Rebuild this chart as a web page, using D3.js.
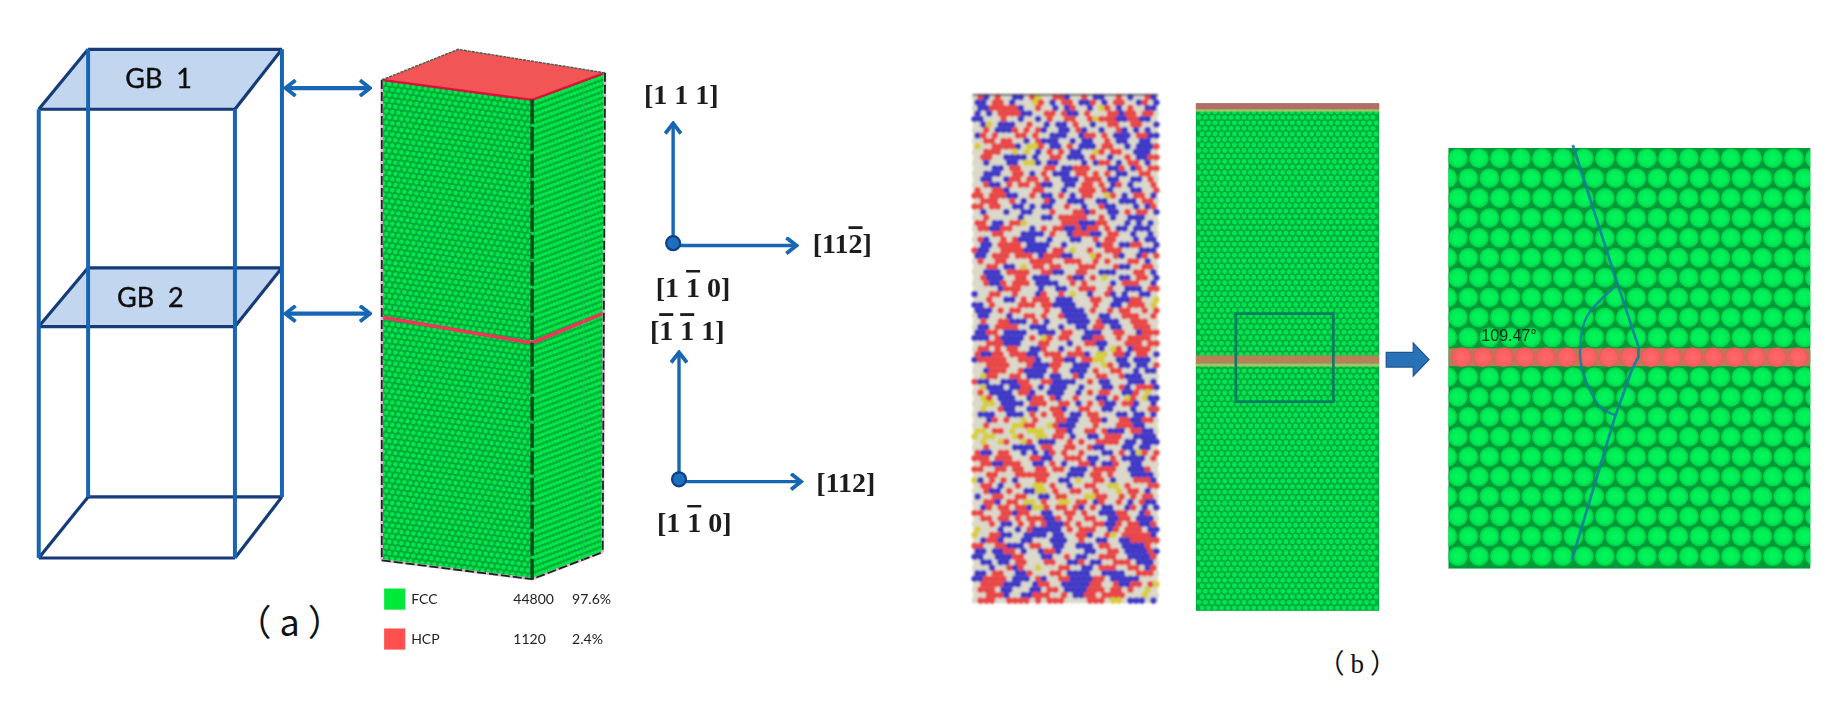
<!DOCTYPE html>
<html><head><meta charset="utf-8">
<script src="https://cdn.jsdelivr.net/npm/d3@7"></script>
<style>html,body{margin:0;background:#fff}svg{display:block}</style></head>
<body><svg id="c" width="1842" height="702"></svg>
<script>
// Diagram points, all in reference-figure units (mapped through the x and y scales)
const gb1=[[75,42],[240,42],[200,93],[33,93]];
const gb2=[[75,228],[240,228],[200,278],[33,278]];
const boxTop=[[325,68],[390,42],[515,62],[453,85]];
const boxFront=[[325,68],[453,85],[453,493],[325,477]];
const boxSide=[[453,85],[515,62],[513,470],[453,493]];
const boxMid=[[325,270],[453,292],[513,267]];
const gbLabels=["GB  1","GB  2"];
const gbLabelPos=[[135,67],[128,253]];
const doubleArrows=[[[243,75],[315,75]],[[243,267],[315,267]]];
const axesOrigins=[[573,207],[578,408]];
const axesUp=[[573,105],[578,300]];
const axesRight=[[[573,209],[678,209]],[[578,410],[682,410]]];
const dirLabels=[[["[1 1 1]",0]],[["[11",0],["2",1],["]",0]],[["[1 ",0],["1",1],[" 0]",0]],[["[",0],["1",1],[" ",0],["1",1],[" 1]",0]],[["[112]",0]],[["[1 ",0],["1",1],[" 0]",0]]];
const dirPos=[[580,80],[717,207],[590,244],[585,281],[720,410],[591,444]];
const legendNames=["FCC","HCP"],legendCounts=["44800","1120"],legendShares=["97.6%","2.4%"];
const legendColors=["#00e838","#ff5050"],legendY=[510,544];
const alloyRows=[
"wrbwrwwbbwrywwrrbwwrwbbwwrwbwwrb","bbwrrwbwwwyrwbwrrwbbrwbwrrwwbrwb","wbbrrrrrbwwrwwbwbrwwbwyrwbwrwwbb","bwbwrrrrbbwwrrwrbbwrwwwrrbrrwrrw","bbwwwrwwbwwbwrwwrrwwryrrrbbrrbbw",
"wbywbbbwwrwwbwbbwrwwbwwrrwwrrwwb","wwrwbbbrwrwrbwwbbwrbwwbwwrbwbwbw","brwrwwwrrwrwwbbbwwbrrwrwbbbwrrbb","wwrrwrrwwbwrbbbwwbwbbwwrwbbwwbbw","ywwrrrrbwyyrwbbwrwbbbwrrwwbwbbbr",
"wwrrrwwywywbwrwrwbbwwyrwrrwwbbbw","wrrwwbbbbwbwwrrwbbbwrwwbwwrwbbrr","wwbwwwbbwyybwbbwwwwbwbrrwbwrrwbw","wwwbbwrrwwwwrrwbbrrrwwwbbrwbrwrr","wwbbbwwrrwbwrwbbbwrrwrwrwbbwwrrw",
"wbbwwbrrwrrwrwwbbbwrrrwbbwwbbwrw","wwrbbwrwrrwrbbwwbbwrrwrwbrwbwwwr","rwwrrbwwwwrrwwwbwwrrrwrbwwwbbwwr","rrwrrrbbwwrwbbwrwbwrrwwyrwbwrrwb","wrrrwwrwbwwwrbwwbbbwwbbwwbbbwrrw",
"rrwrrwwbbwbwbbwwrwwbwwrbbwwwbwbr","wbwwwbwwbbwwwrwwwrrbrwwbbwrwrrwb","wwrwwwwwbwwwbbwrrrrrwwrwbwwbbbww","rrwbbwrrywwwwwwrrrbbbrrwwwbwbwbw","wrrbbrrwwwbwrwrrbbrbrrwrwbbwbbbw",
"wwwrrwwwbbbbwrwwbrrrbbwrrwwbwwbw","wrbwwrwrbbbwwbwwwbbwwrwrrwwwbwbb","wbbwrrrrwbbbbwwbwwwwwbrrwbbrrwwb","rbbwwrrrrbbbbwrrwywwrwwrrrwwwbbb","bbwrrrwrrrwbrrrbbwwwyrwwrbwwbrwr",
"wrwwrrwwwwrrrrwwrrrwwrwrwwwrrwbw","wwrrwbbwywrrwrrwwwrrrwwwrbbwwrrw","wwbbbwrrrrwwrrbbwwrrwwbbbwwwrrwb","wrbbbwwrrwbbbwwwrbbwrwywwbbwrrwb","wwrbbrwrrrwbbbbwwrwrwwwwbwrrrwwb",
"wwwwbrrrwwwbwwbbwwrrrwwrwwbbbwrr","bwwrrwwrwwwbrwwrwywwbwwrbwbwwbbw","wwrwwbbwrwrrrwbbbwwwrrwwbbbrrwwy","bbwrwwwwrrrwrrbbbbwwwrwwbbwrrrwy","bbbwrwrrwwwwrwwbbbbwrwwrwrrwwrwr",
"wbbwwwbwwrrwrwwrbbbbwwbbwwrrrwwr","wrwwrrbbbwrwbwwwbbbbwrbbbwwrrrww","wbbwrrrrwwbbbwwbwwbbwrrwbbwwrrrw","bbrrwbbbbwwbbbwrrwwbbbwwrrwwbrrr","bbbwrbbbbwrwyrwrrwwbbrrwwrwrrrrw",
"wwrrrbbbwwwrrwwwbwwrrbbwwwrrrwrr","wrrwrwrrwwbbrwwbwwrwwwbwyrwbrrrw","rbbrrwrrrbbwrrrwrrrbwyywrrbwrrwb","brrrrrwwrrrbwwrrbbwrryywwbbwbbbw","wwrrrrwwwrbbbrrwwbbbwwyrwbbwbbwr",
"wwbrrrwwrbbbbwrwwbbbwrwwrrwwbwbb","wyrrwwrrwbbbwbbwwrbwwrrwwrbbbwww","rbbwwbbbrrwwrrbbbbwwrwbbwwwbbbwb",
"wybbbwbbrrwbwbbbwwbwwwbbwrbwrrrb","wrwbbbbwrrbwwbbbwwbwrwrrwwbbrwyw","wyrwbbbwwbrrwrbwwrwwwbbwrwyrwybb","wwyywbbbbwrrrwwrrwbwrwrbbwrrbwwb","wywwrbbwwbbwwrrbwwrrwwbbwwwbwwrr",
"wbbbwwbbbwrwrwrrwbbwrrwwwbbwbbwb","wwbrwrwwywrwwwrrbbwwrrbwwrrbbrrw","wwrwwwwyyrrwwyrbbbwwwrwwwrrrbbww","yywrrwywwyyywwrrbwwrrwrbbbwrrbbw","ywyywwwyrwwyywrrwbwwbbwrrrwwbbbb",
"wywwyrwwyrwbbbwwrwrwwrrrrwbbwbbb","wwrwwwwbbbbwrrwwrrwwrbbwwwbbwbbw","rbbwrrwwbwbwbrwrwwrwwwbbwrwbyrwr","rrrwrrrwwwrrbbwwrrrwbbwwrwbbbbwr","wrrbbrrrwwbbwrwbwwrrbwbbrwwbbwww",
"rrwwrrwrrwwrrwrrwbbbwrrrrwwbbbrw","wwrrwwwrrrrrrwwwbbbwrrwrwwwbbbbw","ybwrwrwbwwwrrwwbbwywwrrwbwwwrrrb","wrrwbwwrwwyywrwwbwwrrwwyywrwwwrr","wwrbbwrwwbbyywrwwrrwwrwwwywrrwbw",
"bwwrrwwrrwwbbwrrwwwyyrrwwrwrwrrw","wwrrbwrrwyywrwwyywrrwbrwwrwbwrbb","wbrwrrwrrbyyrwrrwrbwrwbbwwbrwbwb","rrwwwrrbrrwwbbwwrrwrwwbbbrrwwbrw","wrrwrrwrwrrrbbrwrwwrrwwbbrrwbbbw",
"wwwrwbbwrwrwrbbbrwrwwrrbbrwrrbbr","ywwwbwwbwrbbbbbwrwrrrwwbrwrrrwbb","ywwrrbbwwbbbbwbbwwrrbwwrywrrrrrb","wbrrbwwwbbwwwbbbwwrwwbbwwbbrrrrr","rrwwrrbbbwrrwwbbwwbbbwrrwwbbbbrw",
"bbwbbrrwbwwbrrbwwwwbbwwrrwbbbbrb","bbwwbbbrrwwwbbwwrwbbwwrrrwwbbbbr","wbbwbbwrrwwwrrwwbbrwbbwwrrrwbbbw","wwwbwwrbrwwywwwrrwwbbwrrrwwrrwbr","bbwrrwwbbrwwwrrwbbbbwwbbbbwwrrrw",
"bbrrrrwbbbwrbwwrrbbbbrrwbbbbbwww","wrrrrbbbwwbrrwwbbbbbrrwwrbbrrwry","wrrrwbbwwwbbwrrwbbbbrrrwrrwrwwyw","wwrrrbwwbbrrrwwrwbbrrwrrrrwwwyww","wrrrwwrrrrwrwrrrwwwwrrrwyywbbbwb"
];
const alloyColors={w:"#d8d8cc",r:"#e84646",b:"#3f39c6",y:"#d6ce3c"};
const fccCols=[25,22],fccRows=[86,80],plainCols=28,plainRows=92;
const zoomRows=21,zoomCols=18,gbRow=10;
const plane=[[828,81,986,513],[1018,88,1174,520],[1233,126,1541,484]];
const selectBox=[1052,267,1135,342];
const gbBand=[302.5,309.5,312];
const topBand=[88,93,95];
const blockArrow=[[1180,300],[1203,300],[1203,292],[1216.5,306],[1203,320],[1203,312.5],[1180,312.5]];
const cutLine=[[1338.8,123.4],[1374.8,235.5],[1394.7,295.1],[1394.7,303.6],[1389,315],[1374.8,354.7],[1338,476.7]];
const angleArc=[[1374.8,244],[1350.7,269.6],[1345,295],[1347.8,317.8],[1362,346.2],[1374.8,353.3]];
const angleLabel="109.47°",anglePos=[1261,285];
const panelLabels=["（a）","（b）"],panelPos=[[250,530],[1158,565]];

const x=d3.scaleLinear().domain([0,1568]).range([0,1842]);
const y=d3.scaleLinear().domain([0,597.6]).range([0,702]);
const line=d3.line().x(d=>x(d[0])).y(d=>y(d[1]));
const closed=d3.line().x(d=>x(d[0])).y(d=>y(d[1])).curve(d3.curveLinearClosed);
const svg=d3.select("#c");
const defs=svg.append("defs");
[["b1",.6],["b2",.85],["bt",.4],["bl",.6]].forEach(([id,s])=>defs.append("filter").attr("id",id)
  .attr("x","-5%").attr("y","-5%").attr("width","110%").attr("height","110%")
  .append("feGaussianBlur").attr("stdDeviation",s));
const blue="#1766b3",navy="#123a78";
const mk=defs.append("marker").attr("id","head").attr("viewBox","-12 -8 14 16").attr("refX",0).attr("refY",0)
  .attr("markerUnits","userSpaceOnUse").attr("markerWidth",16).attr("markerHeight",18).attr("orient","auto-start-reverse");
mk.append("path").attr("d","M-9,-7L0,0L-9,7").attr("fill","none").attr("stroke",blue).attr("stroke-width",3.4);
const grad=defs.append("radialGradient").attr("id","gAtom").attr("cx","50%").attr("cy","50%").attr("r","52%");
grad.append("stop").attr("offset","0%").attr("stop-color","#00f85c");
grad.append("stop").attr("offset","70%").attr("stop-color","#00ea54");
grad.append("stop").attr("offset","100%").attr("stop-color","#00c442");
const rgrad=defs.append("radialGradient").attr("id","rAtom").attr("cx","50%").attr("cy","50%").attr("r","55%");
rgrad.append("stop").attr("offset","0%").attr("stop-color","#ff6a6a");
rgrad.append("stop").attr("offset","70%").attr("stop-color","#fa5f60");
rgrad.append("stop").attr("offset","100%").attr("stop-color","#d85a50");

/* ---------- wire cube ---------- */
const cube=svg.append("g").attr("filter","url(#b1)");
cube.selectAll("path.plane").data([gb1,gb2]).join("path").attr("d",closed).attr("fill","#c2d7ef");
cube.selectAll("path.edgeBack").data([[[75,42],[240,42]],[[75,228],[240,228]],[[75,423],[240,423]],
  [[33,93],[75,42]],[[200,93],[240,42]],[[33,278],[75,228]],[[200,278],[240,228]],[[33,475],[75,423]],[[200,475],[240,423]],
  [[33,93],[200,93]],[[33,278],[200,278]],[[33,475],[200,475]]])
  .join("path").attr("d",line).attr("fill","none").attr("stroke",navy).attr("stroke-width",3.2);
cube.selectAll("path.vert").data([[[75,42],[75,423]],[[240,42],[240,423]],[[33,93],[33,475]],[[200,93],[200,475]]])
  .join("path").attr("d",line).attr("fill","none").attr("stroke",blue).attr("stroke-width",4);
svg.selectAll("text.gb").data(gbLabels).join("text").attr("class","gb")
  .attr("x",(d,i)=>x(gbLabelPos[i][0])).attr("y",(d,i)=>y(gbLabelPos[i][1]))
  .attr("dy",".36em").attr("text-anchor","middle").style("white-space","pre")
  .attr("font-family","Lato").attr("font-size",27).attr("fill","#111").attr("stroke","#111").attr("stroke-width",.4).attr("filter","url(#bt)").text(d=>d);
svg.selectAll("path.dbl").data(doubleArrows).join("path").attr("d",line).attr("fill","none")
  .attr("stroke",blue).attr("stroke-width",4.4).attr("marker-start","url(#head)").attr("marker-end","url(#head)");

/* ---------- 3D box ---------- */
function bil(q,u,v){
  const t=[q[0][0]+(q[1][0]-q[0][0])*u,q[0][1]+(q[1][1]-q[0][1])*u];
  const b=[q[3][0]+(q[2][0]-q[3][0])*u,q[3][1]+(q[2][1]-q[3][1])*u];
  return [t[0]+(b[0]-t[0])*v,t[1]+(b[1]-t[1])*v];
}
const box=svg.append("g").attr("filter","url(#b1)");
[boxFront,boxSide].forEach((face,fi)=>{
  box.append("path").datum(face).attr("d",closed).attr("fill",fi?"#00b03a":"#00aa3c");
  const g=box.append("g");
  const nc=fccCols[fi],nr=fccRows[fi],pts=[];
  d3.range(nr).forEach(r=>d3.range(nc).forEach(c=>{
    pts.push(bil(face,(c+(r%2?0.75:0.25))/nc,(r+.5)/nr));
  }));
  g.selectAll("circle").data(pts).join("circle").attr("cx",d=>x(d[0])).attr("cy",d=>y(d[1]))
   .attr("r",fi?1.9:2.2).attr("fill","#00e848");
});
box.append("path").datum(boxTop).attr("d",closed).attr("fill","#f25454");
box.append("path").datum(boxMid).attr("d",line).attr("fill","none").attr("stroke","#f4305a").attr("stroke-width",3.6);
box.append("path").datum([[325,68],[453,85],[515,62]]).attr("d",line).attr("fill","none").attr("stroke","#e0103c").attr("stroke-width",2.4);
box.append("path").datum([[325,68],[390,42],[515,62]]).attr("d",line).attr("fill","none").attr("stroke","#4a5a50").attr("stroke-width",1.4).attr("stroke-dasharray","3 1");
box.selectAll("path.edge").data([[[325,68],[325,477]],[[515,62],[513,470]],[[325,477],[453,493],[513,470]]]).join("path")
  .attr("d",line).attr("fill","none").attr("stroke","#e8b0d8").attr("stroke-width",2.6);
box.selectAll("path.edge2").data([[[325,68],[325,477]],[[515,62],[513,470]],[[325,477],[453,493],[513,470]]]).join("path")
  .attr("d",line).attr("fill","none").attr("stroke","#0b2a12").attr("stroke-width",1.8).attr("stroke-dasharray","9 3");
box.append("path").datum([[453,85],[453,493]]).attr("d",line).attr("fill","none").attr("stroke","#024a1c").attr("stroke-width",3.4).attr("stroke-dasharray","24 3");
box.append("path").datum([[497,70],[497,477]]).attr("d",line).attr("fill","none").attr("stroke","#5aa068").attr("stroke-width",.9);

/* ---------- crystal axes ---------- */
axesOrigins.forEach((o,i)=>{
  svg.append("path").datum([o,axesUp[i]]).attr("d",line).attr("stroke",blue).attr("stroke-width",3.4).attr("fill","none").attr("marker-end","url(#head)");
  svg.append("path").datum(axesRight[i]).attr("d",line).attr("stroke",blue).attr("stroke-width",3.4).attr("fill","none").attr("marker-end","url(#head)");
  svg.append("circle").attr("cx",x(o[0])).attr("cy",y(o[1])).attr("r",7).attr("fill","#1d6fbe").attr("stroke","#0c3f86").attr("stroke-width",2.2);
});
const dirT=svg.selectAll("text.dir").data(dirLabels).join("text").attr("class","dir")
  .attr("x",(d,i)=>x(dirPos[i][0])).attr("y",(d,i)=>y(dirPos[i][1])).attr("dy",".36em")
  .attr("text-anchor","middle").attr("font-family","Liberation Serif").attr("font-weight",700).attr("font-size",28).attr("fill","#1a1a1a")
  .attr("filter","url(#bt)");
dirT.selectAll("tspan").data(d=>d).join("tspan").style("white-space","pre")
  .style("text-decoration",d=>d[1]?"overline":"none").text(d=>d[0]);

/* ---------- legend ---------- */
legendNames.forEach((n,i)=>{
  svg.append("rect").attr("x",x(327)).attr("y",y(legendY[i]-9)).attr("width",x(345)-x(327)).attr("height",y(18)).attr("fill",legendColors[i]);
  const t=(v,px)=>svg.append("text").attr("x",x(px)).attr("y",y(legendY[i])).attr("dy",".36em")
    .attr("font-family","Lato").attr("font-size",14).attr("fill","#222").attr("filter","url(#bl)").text(v);
  t(n,350);t(legendCounts[i],437);t(legendShares[i],487);
});
svg.selectAll("text.plab").data(panelLabels).join("text").attr("class","plab")
  .attr("x",(d,i)=>x(panelPos[i][0])).attr("y",(d,i)=>y(panelPos[i][1])).attr("dy",".36em")
  .attr("text-anchor","middle").attr("font-family",(d,i)=>i?"Liberation Serif,Noto Sans CJK SC":"Noto Sans CJK SC")
  .attr("font-size",(d,i)=>i?27:36).attr("letter-spacing",(d,i)=>i?6:8).attr("fill","#111").attr("font-weight",400).text(d=>d);

/* ---------- alloy panel ---------- */
const a=plane[0];
const ag=svg.append("g").attr("filter","url(#b2)");
ag.append("rect").attr("x",x(a[0])).attr("y",y(a[1])).attr("width",x(a[2])-x(a[0])).attr("height",y(a[3])-y(a[1])).attr("fill","#eadfc4");
const colScale=d3.scaleLinear().domain([0,31.5]).range([x(a[0])+2,x(a[2])-2]);
const rowScale=d3.scaleLinear().domain([0,alloyRows.length-1]).range([y(a[1])+2,y(a[3])-2]);
const cells=alloyRows.flatMap((s,r)=>Array.from(s).slice(0,32).map((k,c)=>({k,c,r})))
  .sort((m,n)=>(m.k==="w"?0:1)-(n.k==="w"?0:1));
ag.selectAll("circle").data(cells).join("circle")
  .attr("cx",d=>colScale(d.c+(d.r%2?.5:0))).attr("cy",d=>rowScale(d.r)).attr("r",d=>d.k==="w"?2.9:3.3).attr("fill",d=>alloyColors[d.k]);
ag.append("rect").attr("x",x(a[0])).attr("y",y(a[1])-1).attr("width",x(a[2])-x(a[0])).attr("height",1.6).attr("fill","#444");

/* ---------- plain lattice panel ---------- */
const p=plane[1];
const pW=x(p[2])-x(p[0]);
const pg=svg.append("g").attr("filter","url(#b1)");
pg.append("rect").attr("x",x(p[0])).attr("y",y(p[1])).attr("width",pW).attr("height",y(p[3])-y(p[1])).attr("fill","#00ac40");
const pc=d3.scaleLinear().domain([0,plainCols-.5]).range([x(p[0])+3,x(p[2])-3]);
const pr=d3.scaleLinear().domain([0,plainRows-1]).range([y(p[1])+3,y(p[3])-3]);
const pp=d3.range(plainRows).flatMap(r=>d3.range(plainCols).map(c=>({c,r})));
pg.selectAll("circle").data(pp).join("circle").attr("cx",d=>pc(d.c+(d.r%2?.5:0))).attr("cy",d=>pr(d.r)).attr("r",2.45).attr("fill","#00e650");
[topBand,gbBand].forEach(b=>{
  pg.append("rect").attr("x",x(p[0])).attr("y",y(b[0])).attr("width",pW).attr("height",y(b[1])-y(b[0])).attr("fill",b===topBand?"#b86a66":"#b88058");
  pg.append("rect").attr("x",x(p[0])).attr("y",y(b[1])).attr("width",pW).attr("height",y(b[2])-y(b[1])).attr("fill","#a8c068");
});
const sb=selectBox;
svg.append("rect").attr("x",x(sb[0])).attr("y",y(sb[1])).attr("width",x(sb[2])-x(sb[0])).attr("height",y(sb[3])-y(sb[1]))
  .attr("fill","none").attr("stroke","#0b7a62").attr("stroke-width",2.6).attr("filter","url(#bt)");
svg.append("path").datum(blockArrow).attr("d",closed).attr("fill","#2a72b8").attr("stroke","#1d5590").attr("stroke-width",1.2);

/* ---------- magnified panel ---------- */
const z=plane[2];
const zg=svg.append("g").attr("filter","url(#b1)");
zg.append("rect").attr("x",x(z[0])).attr("y",y(z[1])).attr("width",x(z[2])-x(z[0])).attr("height",y(z[3])-y(z[1])).attr("fill","#009a38");
const zr=d3.scaleLinear().domain([0,zoomRows-1]).range([y(134.7),y(134.7+16.94*20)]);
const zc=d3.scaleLinear().domain([0,zoomCols-.5]).range([x(1241),x(1241)+21*(zoomCols-.5)]);
const zp=d3.range(zoomRows).filter(r=>r!==gbRow).flatMap(r=>d3.range(-1,zoomCols).map(c=>({c,r})));
const clip=defs.append("clipPath").attr("id","zclip");
clip.append("rect").attr("x",x(z[0])).attr("y",y(z[1])).attr("width",x(z[2])-x(z[0])).attr("height",y(z[3])-y(z[1]));
const zcir=zg.append("g").attr("clip-path","url(#zclip)");
zcir.selectAll("circle.g").data(zp).join("circle").attr("class","g").attr("cx",d=>zc(d.c+(d.r%2?.5:0))).attr("cy",d=>zr(d.r)).attr("r",10).attr("fill","url(#gAtom)");
zcir.append("rect").attr("x",x(z[0])).attr("y",zr(gbRow)-9).attr("width",x(z[2])-x(z[0])).attr("height",18).attr("fill","#b87a58");
zcir.selectAll("circle.r").data(d3.range(zoomCols)).join("circle").attr("class","r").attr("cx",c=>x(1241)+4+21*c).attr("cy",zr(gbRow)).attr("r",10).attr("fill","url(#rAtom)");
svg.append("path").datum(cutLine).attr("d",line).attr("fill","none").attr("stroke","#14809a").attr("stroke-width",2.8).attr("opacity",.9).attr("filter","url(#bt)");
svg.append("path").datum(angleArc).attr("d",d3.line().x(d=>x(d[0])).y(d=>y(d[1])).curve(d3.curveCatmullRom)).attr("fill","none").attr("stroke","#14809a").attr("stroke-width",2.4).attr("opacity",.9).attr("filter","url(#bt)");
svg.append("text").attr("x",x(anglePos[0])).attr("y",y(anglePos[1])).attr("dy",".36em").attr("font-family","Liberation Sans")
  .attr("font-size",16).attr("fill","#0a2a14").attr("filter","url(#bt)").text(angleLabel);
</script></body></html>
